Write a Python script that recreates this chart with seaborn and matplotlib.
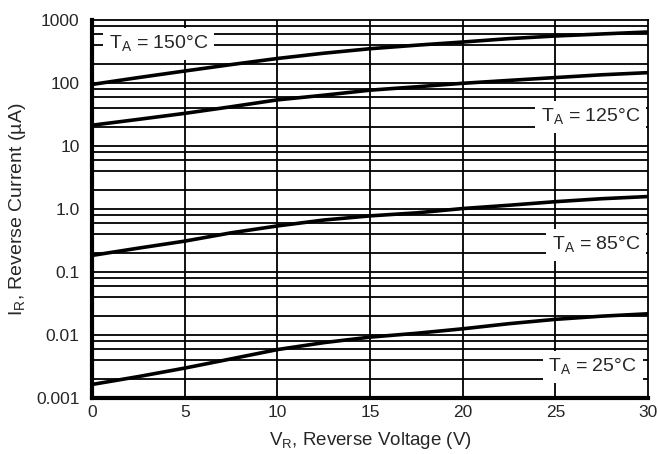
import numpy as np
import pandas as pd
import matplotlib
matplotlib.use("Agg")
import matplotlib.pyplot as plt
import seaborn as sns
from matplotlib.ticker import FixedLocator, NullLocator

voltage = [0, 2.5, 5, 7.5, 10, 12.5, 15, 17.5, 20, 22.5, 25, 27.5, 30]
i_150 = [95, 122, 155, 196, 245, 297, 350, 398, 447, 506, 557, 600, 645]
i_125 = [21.4, 26.5, 33, 42, 54, 64, 77, 87, 99, 110, 122, 135, 146]
i_85 = [0.184, 0.24, 0.31, 0.42, 0.54, 0.67, 0.78, 0.87, 1.02, 1.15, 1.31, 1.46, 1.58]
i_25 = [0.00165, 0.0022, 0.0030, 0.0042, 0.0059, 0.0076, 0.0093, 0.0107, 0.0126,
        0.0152, 0.0178, 0.0200, 0.0218]
temps = ["150", "125", "85", "25"]
y_ticks = [0.001, 0.01, 0.1, 1, 10, 100, 1000]
y_tick_labels = ["0.001", "0.01", "0.1", "1.0", "10", "100", "1000"]
x_ticks = [0, 5, 10, 15, 20, 25, 30]

rows = []
for t, vals in zip(temps, [i_150, i_125, i_85, i_25]):
    for v, i in zip(voltage, vals):
        rows.append({"V": v, "I": i, "T": t})
df = pd.DataFrame(rows)

sns.set_style("white")
plt.rcParams["font.family"] = ["Liberation Sans", "DejaVu Sans"]
plt.rcParams["mathtext.fontset"] = "custom"
plt.rcParams["mathtext.rm"] = "Liberation Sans"

fig = plt.figure(figsize=(6.58, 4.54), dpi=100)
ax = fig.add_axes([0.140, 0.123, 0.845, 0.833])

sns.lineplot(data=df, x="V", y="I", hue="T", palette=["black"] * 4,
             linewidth=2.6, legend=False, ax=ax, zorder=5)
ax.set_yscale("log")
ax.set_xlim(0, 30)
ax.set_ylim(0.001, 1000)

# grid: decades plus 2,4,6,8 multiples
grid_y = []
for d in [0.001, 0.01, 0.1, 1, 10, 100]:
    for m in [2, 4, 6, 8]:
        grid_y.append(d * m)
for g in grid_y + y_ticks[1:-1]:
    ax.axhline(g, color="black", lw=1.3, zorder=1)
for xv in x_ticks[1:-1]:
    ax.axvline(xv, color="black", lw=1.3, zorder=1)

ax.yaxis.set_major_locator(FixedLocator(y_ticks))
ax.yaxis.set_minor_locator(NullLocator())
ax.set_yticklabels(y_tick_labels)
ax.set_xticks(x_ticks)
ax.tick_params(axis="both", length=0, labelsize=12.5)
ax.tick_params(axis="y", pad=9)
ax.tick_params(axis="x", pad=5)

for s in ["top", "right"]:
    ax.spines[s].set_linewidth(1.3)
    ax.spines[s].set_color("black")
for s in ["left", "bottom"]:
    ax.spines[s].set_linewidth(3)
    ax.spines[s].set_color("black")

ax.set_xlabel(r"V$_{\mathrm{R}}$, Reverse Voltage (V)", fontsize=13.5, labelpad=7)
ax.set_ylabel(r"I$_{\mathrm{R}}$, Reverse Current (µA)", fontsize=14, labelpad=6)

bbox = dict(facecolor="white", edgecolor="none", pad=4)
labels = [(0.9, 420, "150"), (29.6, 29, "125"), (29.6, 0.27, "85"), (29.4, 0.0031, "25")]
for i, (xv, yv, t) in enumerate(labels):
    ha = "left" if i == 0 else "right"
    ax.text(xv, yv, r"T$_{\mathrm{A}}$ = " + t + "°C", fontsize=14, ha=ha, va="center",
            bbox=bbox, zorder=3)

fig.savefig("out.png", dpi=100)
